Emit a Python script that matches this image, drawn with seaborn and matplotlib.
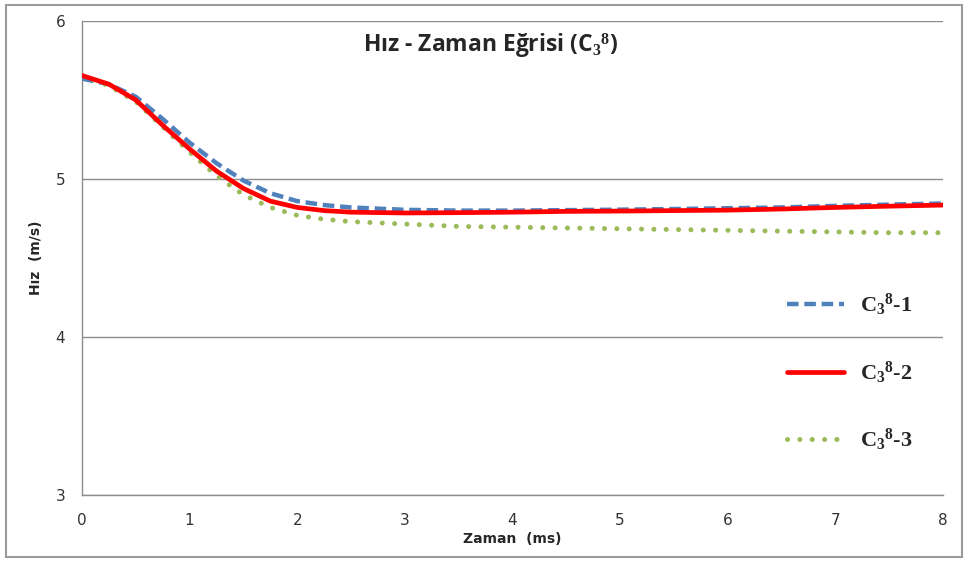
import matplotlib
matplotlib.use("Agg")
import matplotlib.pyplot as plt
from matplotlib.lines import Line2D
from matplotlib.patches import FancyBboxPatch
from matplotlib.font_manager import FontProperties
import seaborn as sns
import pandas as pd

# Time axis (ms) and speed readings (m/s) for the three C3^8 runs
zaman = [0, 0.25, 0.5, 0.75, 1.0, 1.25, 1.5, 1.75, 2.0, 2.25, 2.5, 3.0,
         3.5, 4.0, 4.5, 5.0, 5.5, 6.0, 6.5, 7.0, 7.5, 8.0]
hiz_1 = [5.635, 5.60, 5.52, 5.38, 5.23, 5.10, 4.99, 4.91, 4.86, 4.835, 4.82, 4.805,
         4.80, 4.80, 4.803, 4.806, 4.81, 4.815, 4.82, 4.83, 4.838, 4.845]
hiz_2 = [5.655, 5.60, 5.50, 5.34, 5.19, 5.05, 4.94, 4.86, 4.82, 4.80, 4.79, 4.785,
         4.787, 4.79, 4.795, 4.797, 4.80, 4.803, 4.81, 4.82, 4.828, 4.835]
hiz_3 = [5.655, 5.59, 5.49, 5.33, 5.17, 5.02, 4.90, 4.82, 4.77, 4.745, 4.73, 4.715,
         4.70, 4.695, 4.69, 4.685, 4.68, 4.675, 4.67, 4.665, 4.66, 4.66]
seri_adlari = ["C$_{3}$$^{8}$-1", "C$_{3}$$^{8}$-2", "C$_{3}$$^{8}$-3"]
x_ticks = [0, 1, 2, 3, 4, 5, 6, 7, 8]
y_ticks = [3, 4, 5, 6]

sns.set_theme(style="white")
plt.rcParams["font.family"] = ["DejaVu Sans"]
plt.rcParams["mathtext.fontset"] = "custom"
plt.rcParams["mathtext.rm"] = "Liberation Serif:bold"
plt.rcParams["mathtext.it"] = "Liberation Serif:bold"
plt.rcParams["mathtext.bf"] = "Liberation Serif:bold"

fig = plt.figure(figsize=(9.64, 5.61), dpi=100)
ax = fig.add_axes([82 / 964, 1 - 495 / 561, (943 - 82) / 964, (495 - 21) / 561])

df = pd.DataFrame({"Zaman": zaman, "s1": hiz_1, "s2": hiz_2, "s3": hiz_3})

renkler = ["#4F81BD", "#FF0000", "#9BBB59"]
stiller = [(0, (2.6, 1.3)), "-", (0, (0.01, 2.46))]
genislik = [3.2, 3.4, 3.6]

for col, c, ls, lw in zip(["s1", "s3", "s2"], [renkler[0], renkler[2], renkler[1]],
                          [stiller[0], stiller[2], stiller[1]],
                          [genislik[0], genislik[2], genislik[1]]):
    sns.lineplot(data=df, x="Zaman", y=col, ax=ax, color=c, linewidth=lw,
                 linestyle=ls, estimator=None, legend=False,
                 dash_capstyle="round" if col == "s3" else "butt", zorder=3)

ax.set_xlim(0, 8)
ax.set_ylim(3, 6)
ax.set_xticks(x_ticks)
ax.set_yticks(y_ticks)
ax.tick_params(axis="both", length=0, labelsize=11, colors="#333333")
ax.tick_params(axis="x", pad=13)
ax.tick_params(axis="y", pad=12)
ax.yaxis.grid(True, color="#8c8c8c", linewidth=1.0)
ax.xaxis.grid(False)
for s in ["top", "right"]:
    ax.spines[s].set_visible(False)
for s in ["left", "bottom"]:
    ax.spines[s].set_color("#8c8c8c")
    ax.spines[s].set_linewidth(1.0)

ax.set_xlabel("Zaman  (ms)", fontsize=10, fontweight="bold", labelpad=3)
ax.set_ylabel("Hız  (m/s)", fontsize=10, fontweight="bold", labelpad=9)

fig.text(491 / 964, 1 - 46 / 561, "Hız - Zaman Eğrisi (C$_{3}$$^{8}$)",
         ha="center", va="center", fontsize=16.5, fontweight="bold",
         family="Open Sans")

handles = [Line2D([0], [0], color=c, linewidth=lw, linestyle=ls,
                  dash_capstyle="round" if i == 2 else "butt")
           for i, (c, ls, lw) in enumerate(zip(renkler, stiller, genislik))]
leg_font = FontProperties(family="Liberation Serif", weight="bold", size=16)
ax.legend(handles, seri_adlari, loc="upper left",
          bbox_to_anchor=(767 / 964, 1 - 272 / 561), bbox_transform=fig.transFigure,
          frameon=False, prop=leg_font, labelspacing=1.85, handlelength=2.55,
          handletextpad=0.75)

fig.patches.append(FancyBboxPatch((6 / 964, 4 / 561), (956) / 964, (552) / 561,
                                  boxstyle="square,pad=0", transform=fig.transFigure,
                                  fill=False, edgecolor="#9a9a9a", linewidth=1.5))

fig.savefig("out.png", dpi=100)
